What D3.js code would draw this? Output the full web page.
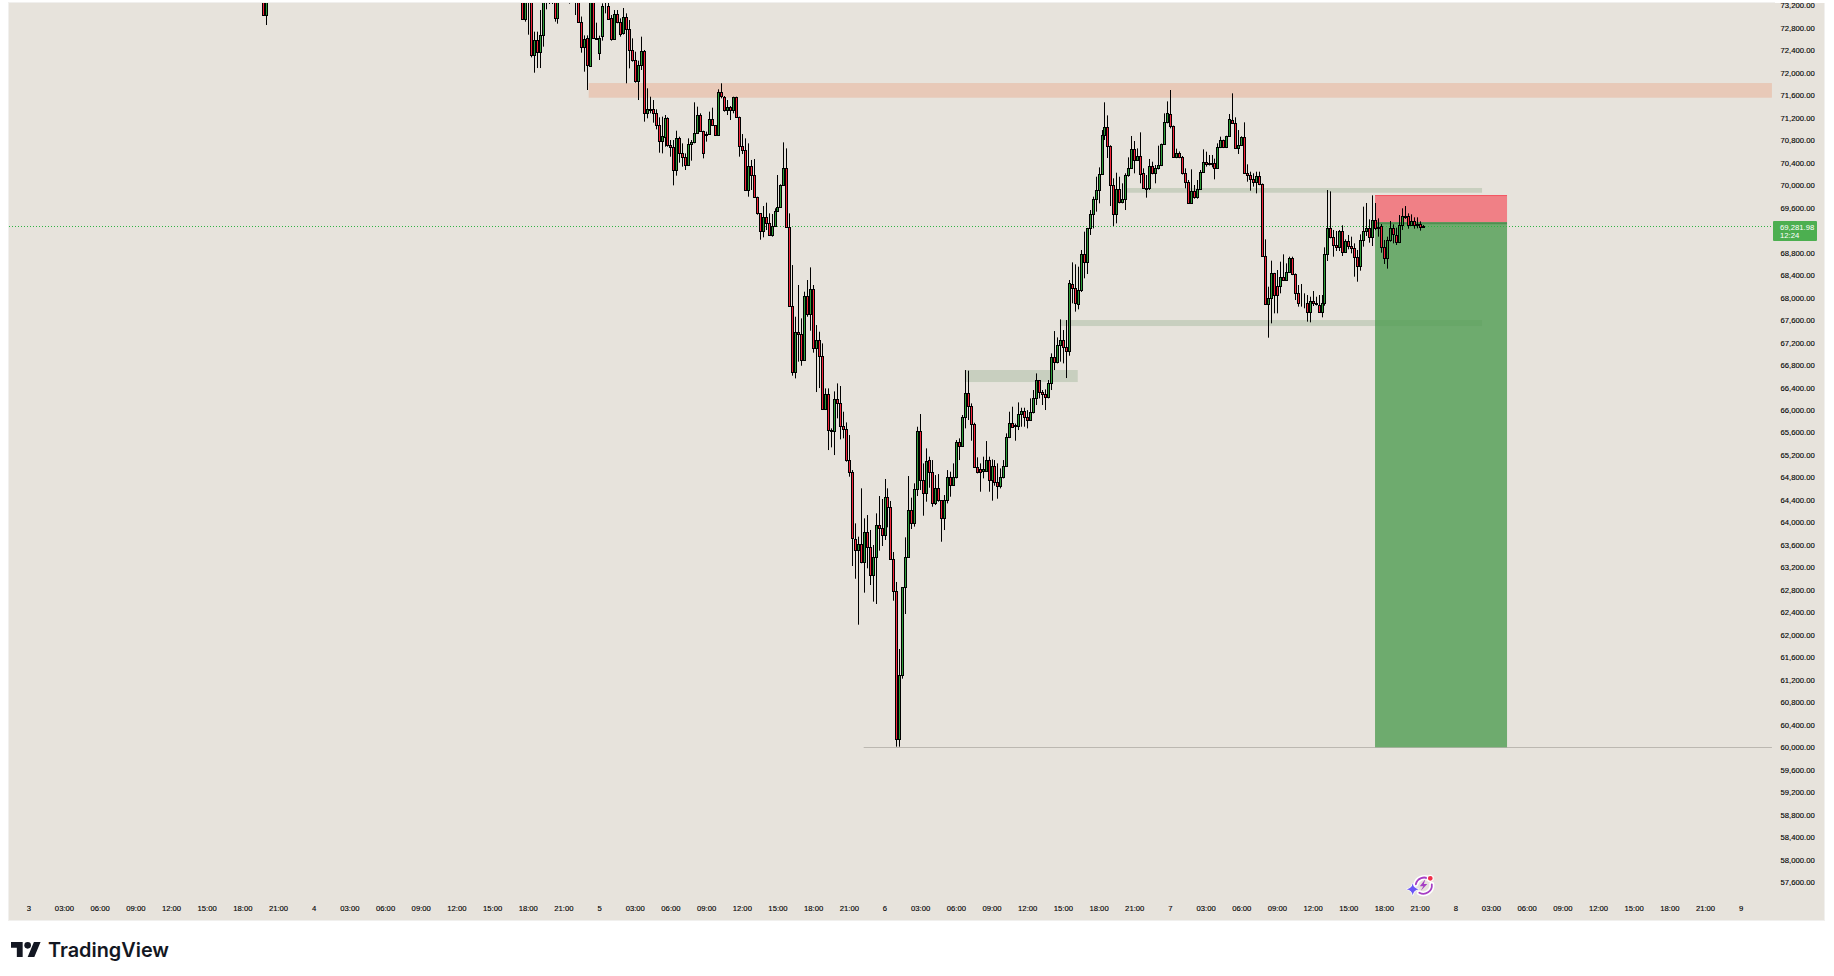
<!DOCTYPE html>
<html>
<head>
<meta charset="utf-8">
<style>html,body{margin:0;padding:0;background:#fff;overflow:hidden}svg{display:block}</style>
<script src="https://cdn.jsdelivr.net/npm/d3@7/dist/d3.min.js"></script>
</head>
<body>
<svg id="c" width="1834" height="976"></svg>
<script>
// Each row is [open, high, low, close] of one 15-minute bar, in USD.
const earlyBars = [[73700,73800,73021,73021],[73021,73800,72849,73700]];
const earlyFirstBar = 79;

const declineBars = [
[73700,73800,72950,72950],[72950,73800,72909,73700],[73700,73800,72677,73650],[73650,73750,72274,72316],
[72316,72731,72001,72576],[72576,72731,72084,72369],[72375,73116,72084,72665],[72665,73700,72464,73500],
[73500,73700,73128,73600],[73600,73700,73223,73500],[73500,73700,73223,73600],[73600,73700,72909,72968],
[72968,73700,72873,73500],[73500,73700,73400,73600],[73600,73700,73400,73500],[73500,73700,73400,73600],
[73500,73700,73229,73600],[73600,73700,73400,73500],[73600,73700,73027,73500],[73500,73700,72897,72897],
[72897,73000,72357,72452],[72452,72665,72019,72594],[72612,72665,71693,72132],[72120,73500,72120,73400],
[73400,73600,72612,72612],[72612,72891,72600,72600],[72345,72660,72227,72612],[72659,73235,72571,73187],
[73187,73300,73057,73187],[73187,73250,72950,72956],[72968,73027,72571,72594],[72594,73116,72594,73045],
[73045,73116,72880,72909],[72909,72968,72642,72683],[72701,73152,72680,72986],[72986,73057,71812,72772],
[72772,72938,72078,72410],[72410,72612,72197,72221],[72221,72375,71823,71859],[71859,72215,71515,72138],
[72132,72642,72049,72393],[72393,72405,71130,71278],[71278,71723,71189,71349],[71349,71574,71278,71337],
[71349,71515,71112,71278],[71278,71349,70993,71070],[71064,71207,70578,70780],[70792,71219,70566,70875],
[70863,71248,70685,71189],[71189,71207,70685,70714],[70714,70803,70507,70673],[70673,70803,69997,70264],
[70264,70969,70169,70833],[70833,70863,70400,70566],[70566,70744,70329,70495],[70495,70566,70270,70353],
[70353,70833,70347,70726],[70726,70803,70436,70774],[70774,71474,70744,70922],[70922,71397,70910,71242],
[71242,71278,70969,70969],[70969,70969,70477,70566],[70904,70952,70774,70886],[70904,71308,70904,71171],
[71171,71379,71052,71064],[71064,71064,70886,70886],[70886,71705,70886,71663],[71663,71812,71545,71586],
[71574,71586,71308,71331],[71331,71515,71248,71397],[71397,71408,71159,71331],[71331,71574,71278,71562],
[71562,71574,71207,71207],[71207,71219,70507,70691],[70691,70910,70554,70620],[70620,70833,69914,69920],
[69920,70744,69795,70335],[70335,70448,69914,70175],[70175,70465,69783,69783],[69783,69795,69475,69499],
[69499,69499,69030,69190],[69190,69629,69072,69428],[69428,69689,69202,69333],[69333,69499,69101,69119],
[69119,69487,69084,69280],[69280,69588,69262,69534],[69534,70181,69534,69606],[69606,70015,69606,69997],
[69997,70762,69997,70299],[70299,70655,69250,69250]];
const declineFirstBar = 166;

const capitulationBars = [
[69250,69499,67840,67856],[67856,68579,66611,66682],[66682,67660,66563,67381],[67381,68224,66860,67346],
[67346,67631,66788,66883],[66883,68105,66883,68022],[68022,68313,67660,67702],[67702,68538,67411,68146],
[68146,68224,67020,67097],[67097,67512,66320,67239],[67239,67393,66391,66955],[66955,67186,66000,66012],
[66012,66385,66000,66279],[66279,66385,65288,65638],[65638,65674,65336,65630],[65620,66332,65199,66190],
[66190,66474,65852,66118],[66118,66427,65478,65709],[65709,65970,65496,65656],[65656,65780,65081,65104],
[65104,65555,64814,64891],[64891,64932,63225,63717],[63700,63984,62999,63510],[63510,63747,62181,63611],
[63611,64607,63273,63290],[63290,64073,62751,63824],[63824,64132,63184,63557],[63557,63866,62887,63059],
[63059,63599,62591,63379],[63379,64162,62549,63949],[63949,64470,63498,63895],[63895,64417,63581,63771],
[63771,64773,63688,64447],[64447,64607,63913,64269],[64269,64382,63340,63344],[63344,63474,62608,62774],
[62774,62941,60011,60142],[60142,61749,60011,61280],[61280,62850,61221,62846],[62846,63735,62371,63379],
[63379,64826,63379,64215],[64215,64441,63883,63984],[63984,64696,63925,64589],[64589,65703,64470,65620],
[65620,65929,64577,64754],[64754,65051,64120,64517],[64517,65318,64369,65087],[65104,65170,64618,64903],
[64891,65110,64280,64339],[64339,64843,64310,64606],[64606,64861,64369,64393],[64393,64393,63657,64073],
[64073,64488,63865,64393],[64393,64932,64339,64814],[64814,64903,64458,64671],[64671,65051,64660,64814],
[64814,65466,64784,65425],[65425,65496,65110,65365],[65365,65911,65365,65869],[65869,66711,65674,66296],
[66296,66700,65822,66077],[66077,66118,65454,65745],[65745,65774,64970,64980],[64980,65158,64873,64891],
[64944,65051,64547,64891],[64915,65170,64784,64944],[64915,65448,64903,65104],[65104,65170,64547,64749],
[64749,65122,64387,64998],[64998,65110,64654,64713],[64725,65051,64422,64654],[64654,64962,64606,64802],
[64802,65110,64784,65010],[65010,65585,65010,65514],[65514,65970,65500,65763],[65763,66059,65680,65691],
[65730,65760,65454,65710],[65710,66136,65644,65923],[65923,66041,65703,65976],[65976,66041,65703,65881],
[65881,65999,65674,65828],[65828,66207,65828,65958],[65958,66356,65940,66207],[66207,66652,66089,66528],
[66528,66528,66207,66314],[66314,66356,66089,66279],[66279,66367,66000,66225],[66225,66534,66207,66474],
[66474,67008,66356,66937],[66937,67405,66711,66848],[66848,67292,66830,67150],[67150,67613,66860,67239],
[67239,67423,66830,67115],[67115,67601,66569,67043],[67043,68313,66966,68253]];
const capitulationFirstBar = 256;

const recoveryBars = [
[68236,68627,67898,68165],[68165,68592,67750,67898],[67880,68550,67791,68129],[68129,68847,68100,68770],
[68770,69173,68343,68627],[68627,69240,68420,69232],[69232,69558,69114,69481],[69481,69796,69232,69748],
[69748,70151,69529,69908],[69908,70317,69677,70193],[70193,70981,70193,70887],[70887,71474,70804,71029],
[71029,71242,70483,70703],[70691,70710,69629,69997],[69997,70122,69274,69481],[69481,70222,69321,69926],
[69926,70151,69677,69695],[69695,70033,69677,69748],[69748,70211,69558,70175],[70175,70495,70151,70300],
[70300,70875,70300,70638],[70638,70786,70211,70442],[70442,70655,70442,70513],[70513,70940,70033,70193],
[70211,70300,69940,69944],[69950,70181,69778,69940],[69944,70466,69914,70335],[70335,70418,70193,70211],
[70211,70359,70033,70300],[70300,70703,70280,70353],[70353,70740,70340,70727],[70727,71278,70727,71118],
[71118,71491,71100,71278],[71260,71693,71011,71047],[71047,71060,70490,70495],[70495,70650,70480,70566],
[70566,70600,70480,70495],[70495,70519,70190,70211],[70211,70300,69944,70050],[70050,70092,69677,69677],
[69677,70282,69677,69890],[69890,70003,69760,69784],[69784,70092,69760,69926],[69926,70270,69926,70228],
[70228,70638,70228,70406],[70406,70596,70330,70371],[70388,70537,70350,70380],[70380,70537,70317,70388],
[70388,70472,70104,70300],[70300,70744,70300,70673],[70673,70863,70660,70798],[70798,70810,70660,70673],
[70673,70880,70660,70869],[70869,71266,70869,71171],[71153,71634,71090,71100],[71100,71207,70650,70655],
[70655,70981,70555,70709],[70709,70870,70700,70851],[70851,71118,70205,70211],[70211,70371,70062,70175],
[70175,70240,69902,70104],[70104,70211,69974,70050],[70050,70240,69855,70157],[70157,70240,70000,70015],
[70015,70030,68730,68734],[68734,69036,67870,67880],[67880,68194,67287,67987],[67987,68657,67542,68432],
[68432,68440,67720,68040],[68200,68491,67720,68040],[68200,68639,68076,68360],[68360,68770,68307,68307],
[68307,68610,68300,68449],[68449,68728,68440,68698],[68698,68728,68400,68414],[68414,68430,67957,68076],
[68076,68224,67839,67898],[67905,68242,67839,67898],[67905,68076,67810,67898],[67898,68046,67572,67738],
[67738,68016,67560,67933],[67933,68117,67850,67898],[67898,68016,67860,67890],[67862,68046,67730,67738],
[67738,68046,67649,67898],[67898,68894,67856,68770],[68770,69914,68651,69232]];
const recoveryFirstBar = 351;

const latestBars = [
[69232,69890,69054,69072],[69072,69203,68728,68942],[68942,69185,68829,68894],[68894,69203,68829,69179],
[69179,69286,68740,68805],[68805,69036,68800,69001],[69001,69114,68859,68924],[68924,69084,68787,68876],
[68876,68965,68372,68716],[68716,68847,68283,68556],[68556,69125,68479,69019],[69019,69618,68906,69179],
[69179,69683,69096,69232],[69232,69392,68977,69072],[69072,69819,68918,69374],[69374,69683,69200,69232],
[69232,69410,69084,69250],[69268,69309,68799,68894],[68894,69025,68598,68698],[68698,69084,68515,69019],
[69019,69363,68995,69232],[69232,69303,68965,69125],[69108,69244,68936,68983],[68983,69469,68970,69286],
[69286,69588,69203,69446],[69446,69629,69400,69440],[69446,69499,69226,69286],[69286,69481,69280,69357],
[69357,69428,69226,69286],[69286,69428,69232,69303],[69303,69357,69191,69250],[69250,69290,69240,69282]];
const latestFirstBar = 438;

const priceTicks = [57600,58000,58400,58800,59200,59600,60000,60400,60800,61200,61600,62000,62400,62800,
  63200,63600,64000,64400,64800,65200,65600,66000,66400,66800,67200,67600,68000,68400,68800,
  69600,70000,70400,70800,71200,71600,72000,72400,72800,73200];
const timeLabels = ["3","03:00","06:00","09:00","12:00","15:00","18:00","21:00",
  "4","03:00","06:00","09:00","12:00","15:00","18:00","21:00",
  "5","03:00","06:00","09:00","12:00","15:00","18:00","21:00",
  "6","03:00","06:00","09:00","12:00","15:00","18:00","21:00",
  "7","03:00","06:00","09:00","12:00","15:00","18:00","21:00",
  "8","03:00","06:00","09:00","12:00","15:00","18:00","21:00","9"];
const barsPerLabel = 12;

const lastPrice = 69281.98;
const countdown = "12:24";
const lowLevel = 60000;
// Zones as [first bar, last bar, low price, high price]
const supplyZone = [188.5, 586.5, 71556, 71817];
const demandZones = [[315, 353, 66498, 66712],[368.5, 489, 69866, 69950],[347, 489, 67494, 67601]];
const shortEntry = 69340, shortStop = 69815;
const shortBars = [453, 497.4];
const lowLineFirstBar = 281;
const chartEndBar = 586.5;

const svg = d3.select("#c");
const x = d3.scaleLinear().domain([0, 576]).range([28.3, 1740.7]);
const y = d3.scaleLinear().domain([60000, 73200]).range([747.3, 5.3]);
const font = "'Liberation Sans', Arial, sans-serif";

const candles = [];
[[earlyBars,earlyFirstBar],[declineBars,declineFirstBar],[capitulationBars,capitulationFirstBar],
 [recoveryBars,recoveryFirstBar],[latestBars,latestFirstBar]].forEach(([rows,first]) => {
  rows.forEach((r,i) => candles.push({bar:first+i,o:r[0],h:r[1],l:r[2],c:r[3]}));
});

// panel
svg.append("rect").attr("x",8).attr("y",2).attr("width",1817).attr("height",919).attr("fill","#f1f0ee");
svg.append("rect").attr("x",9).attr("y",3).attr("width",1815).attr("height",917).attr("fill","#e7e3dc");
const defs = svg.append("defs");
defs.append("clipPath").attr("id","plot").append("rect").attr("x",9).attr("y",3).attr("width",1763).attr("height",917);
const plot = svg.append("g").attr("clip-path","url(#plot)");

// zones
plot.append("rect").attr("x",x(supplyZone[0])).attr("width",x(supplyZone[1])-x(supplyZone[0]))
  .attr("y",y(supplyZone[3])).attr("height",y(supplyZone[2])-y(supplyZone[3])).attr("fill","#e8c9b8");
plot.selectAll("rect.dz").data(demandZones).join("rect").attr("class","dz")
  .attr("x",d=>x(d[0])).attr("width",d=>x(d[1])-x(d[0]))
  .attr("y",d=>y(d[3])).attr("height",d=>y(d[2])-y(d[3])).attr("fill","#c8cfbf");

// level line
plot.append("line").attr("x1",x(lowLineFirstBar)).attr("x2",x(chartEndBar)).attr("y1",Math.round(y(lowLevel))+.5).attr("y2",Math.round(y(lowLevel))+.5)
  .attr("stroke","#bcb8b1").attr("stroke-width",1);

// short position
const sx0=x(shortBars[0]), sx1=x(shortBars[1]);
plot.append("rect").attr("x",sx0).attr("width",sx1-sx0).attr("y",y(shortStop)).attr("height",y(shortEntry)-y(shortStop))
  .attr("fill","rgb(242,102,112)").attr("fill-opacity",.8);
plot.append("rect").attr("x",sx0).attr("width",sx1-sx0).attr("y",y(shortEntry)).attr("height",y(lowLevel)-y(shortEntry))
  .attr("fill","rgb(80,156,82)").attr("fill-opacity",.8);
plot.append("line").attr("x1",sx0).attr("x2",sx1).attr("y1",y(shortStop)).attr("y2",y(shortStop)).attr("stroke","#f4525e").attr("stroke-width",1);
plot.append("line").attr("x1",sx0).attr("x2",sx1).attr("y1",y(shortEntry)+1).attr("y2",y(shortEntry)+1).attr("stroke","#4f8f50").attr("stroke-width",2);

// last price line
const lastY = Math.round(y(lastPrice))+.5;
plot.append("line").attr("x1",9).attr("x2",1772).attr("y1",lastY).attr("y2",lastY)
  .attr("stroke","#2fb344").attr("stroke-width",1).attr("stroke-dasharray","1 2");

// candles
const cx = d => Math.round(x(d.bar));
const cg = plot.append("g");
cg.selectAll("line").data(candles).join("line")
  .attr("x1",d=>cx(d)+.5).attr("x2",d=>cx(d)+.5).attr("y1",d=>y(d.h)).attr("y2",d=>y(d.l))
  .attr("stroke","#000").attr("stroke-width",1);
cg.selectAll("rect").data(candles).join("rect")
  .attr("x",d=>cx(d)-.5).attr("width",2)
  .attr("y",d=>Math.round(y(Math.max(d.o,d.c)))+.5)
  .attr("height",d=>Math.max(0,Math.round(y(Math.min(d.o,d.c)))-Math.round(y(Math.max(d.o,d.c)))))
  .attr("fill",d=>d.c>=d.o?"#2e9e3a":"#f5263c").attr("stroke","#000").attr("stroke-width",1);

// price axis
const yAxis = d3.axisRight(y).tickValues(priceTicks).tickFormat(d3.format(",.2f")).tickSize(0).tickPadding(0);
const ya = svg.append("g").attr("transform","translate(1780.5,0)").call(yAxis);
ya.select(".domain").remove();
ya.selectAll("text").attr("font-family",font).attr("font-size",7.7).attr("fill","#000").attr("stroke","#000").attr("stroke-width",.12).attr("x",0);
// the page edge cuts the top tick label, as in the picture
svg.append("rect").attr("x",1775).attr("y",0).attr("width",50).attr("height",3).attr("fill","#fff");
// time axis
const xAxis = d3.axisBottom(x).tickValues(timeLabels.map((_,i)=>i*barsPerLabel))
  .tickFormat((_,i)=>timeLabels[i]).tickSize(0).tickPadding(0);
const xa = svg.append("g").attr("transform","translate(0,906)").call(xAxis);
xa.select(".domain").remove();
xa.selectAll("text").attr("font-family",font).attr("font-size",7.7).attr("fill","#000").attr("stroke","#000").attr("stroke-width",.12).attr("y",0).attr("dy",".71em");

// last price tag
svg.append("rect").attr("x",1773).attr("y",221).attr("width",44).attr("height",20).attr("rx",1).attr("fill","#4caf50");
svg.append("text").attr("x",1780).attr("y",229.5).attr("font-family",font).attr("font-size",7.7).attr("fill","#fff")
  .text(d3.format(",.2f")(lastPrice));
svg.append("text").attr("x",1780).attr("y",238).attr("font-family",font).attr("font-size",7.7).attr("fill","#fff").text(countdown);

// TradingView logo
const logo = svg.append("g").attr("transform","translate(11,938.7) scale(.833)").attr("fill","#131722");
logo.append("path").attr("d","M14 22H7V11H0V4h14v18zM28 22h-8l7.5-18h8L28 22z");
logo.append("circle").attr("cx",20).attr("cy",8).attr("r",4);
svg.append("text").attr("x",48).attr("y",957).attr("font-family","Inter, 'Liberation Sans', sans-serif").attr("font-weight",600)
  .attr("font-size",20).attr("fill","#131722").attr("textLength",121).attr("lengthAdjust","spacingAndGlyphs").text("TradingView");

// badge
const b = svg.append("g").attr("transform","translate(1423.3,885.3)");
const ring = "M-7.5,-1 A8.5,8.5 0 0 1 6,-6 M8.5,-1 A8.5,8.5 0 0 1 -4,7.5";
b.append("path").attr("d",ring).attr("fill","none").attr("stroke","#fff").attr("stroke-width",5).attr("stroke-linecap","round");
b.append("path").attr("d",ring).attr("fill","none").attr("stroke","#a63fc4").attr("stroke-width",1.8).attr("stroke-linecap","round");
b.append("path").attr("d","M2,-6 L-3.5,1 L0,1 L-2.5,5.5 L4,-1.2 L0.6,-1.2 Z").attr("fill","#a63fc4");
const star = "M0,-6 Q0.8,-0.8 6,0 Q0.8,0.8 0,6 Q-0.8,0.8 -6,0 Q-0.8,-0.8 0,-6 Z";
b.append("path").attr("d",star).attr("transform","translate(-10.6,4)").attr("fill","#6a55f5").attr("stroke","#fff").attr("stroke-width",1.5).attr("paint-order","stroke");
b.append("circle").attr("cx",7).attr("cy",-7).attr("r",3).attr("fill","#f1304a").attr("stroke","#fff").attr("stroke-width",1.2);
</script>
</body>
</html>
